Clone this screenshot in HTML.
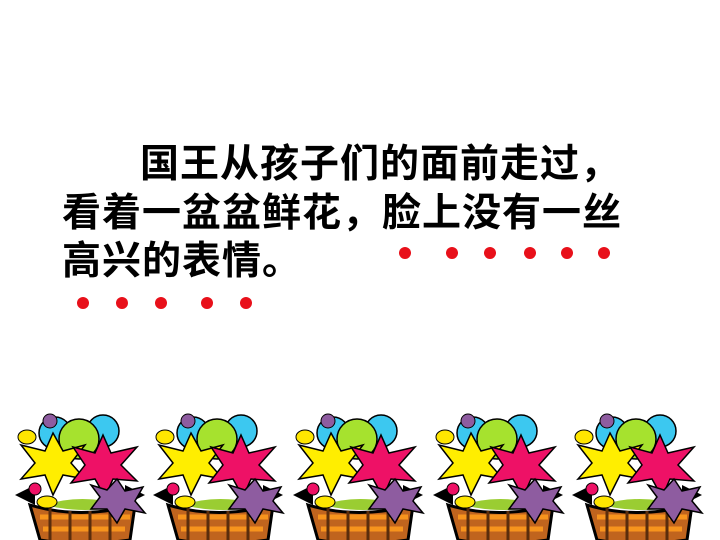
<!DOCTYPE html>
<html><head><meta charset="utf-8"><style>
html,body{margin:0;padding:0;background:#fff;width:720px;height:540px;overflow:hidden;position:relative}
.t{position:absolute;font-family:"Liberation Sans","Noto Sans CJK SC",sans-serif;font-size:39px;font-weight:bold;color:#000;white-space:nowrap;line-height:1;letter-spacing:1px}
</style></head><body>
<div class="t" style="left:140px;top:145px">国王从孩子们的面前走过，</div>
<div class="t" style="left:62px;top:194px">看着一盆盆鲜花，脸上没有一丝</div>
<div class="t" style="left:62px;top:242px">高兴的表情。</div>
<svg width="720" height="540" style="position:absolute;left:0;top:0">
<defs>
<g id="bk">
<path d="M30 80 L10 90 L30 100 Z" fill="#000"/>
<path d="M120 80 L140 90 L120 100 Z" fill="#000"/>
<path d="M25 100 Q75 115 130 100 L125 135 Q75 142 35 135 Z" fill="#c0641e" stroke="#000" stroke-width="3"/>
<path d="M35 112 H125 M38 124 H120" stroke="#f7941d" stroke-width="5"/>
<path d="M45 103 V135 M65 106 V138 M85 106 V138 M105 103 V136" stroke="#5a2d0c" stroke-width="3"/>
<path d="M40 100 Q75 88 120 100 Q80 110 40 100Z" fill="#9acd32"/>
<circle cx="50" cy="28" r="16" fill="#3cc8f0" stroke="#000" stroke-width="1.5"/>
<circle cx="98" cy="26" r="16" fill="#3cc8f0" stroke="#000" stroke-width="1.5"/>
<circle cx="74" cy="34" r="20" fill="#a6e22e" stroke="#000" stroke-width="1.5"/>
<circle cx="45" cy="16" r="7" fill="#8e5ca0" stroke="#000"/>
<ellipse cx="22" cy="32" rx="9" ry="7" fill="#ffe600" stroke="#000"/>
<path d="M48 28 L58 46 L80 40 L66 58 L80 74 L58 70 L48 90 L40 70 L16 74 L30 58 L16 40 L40 46Z" fill="#ffee00" stroke="#000" stroke-width="1.5"/>
<path d="M98 30 L106 48 L132 42 L116 60 L132 76 L108 74 L100 92 L90 74 L66 78 L80 60 L68 42 L90 48Z" fill="#ee1166" stroke="#000" stroke-width="1.5"/>
<path d="M112 74 L120 86 L138 82 L130 96 L140 108 L120 104 L112 118 L102 104 L86 104 L95 92 L86 80 L102 85Z" fill="#8e5ca0" stroke="#000" stroke-width="1.5"/>
<circle cx="30" cy="84" r="6" fill="#ee1166" stroke="#000"/>
<ellipse cx="42" cy="97" rx="10" ry="6" fill="#ffe600" stroke="#000"/>
</g>
</defs>
<g><use href="#bk" x="5" y="405"/></g>
<g><use href="#bk" x="143" y="405"/></g>
<g><use href="#bk" x="283" y="405"/></g>
<g><use href="#bk" x="423" y="405"/></g>
<g><use href="#bk" x="562" y="405"/></g>
<g fill="#e8101a">
<circle cx="405" cy="253" r="6"/><circle cx="452" cy="253" r="6"/><circle cx="490" cy="253" r="6"/><circle cx="530" cy="253" r="6"/><circle cx="567" cy="253" r="6"/><circle cx="604" cy="253" r="6"/>
<circle cx="83" cy="303" r="6"/><circle cx="122" cy="303" r="6"/><circle cx="161" cy="303" r="6"/><circle cx="207" cy="303" r="6"/><circle cx="246" cy="303" r="6"/>
</g>
</svg>
</body></html>
